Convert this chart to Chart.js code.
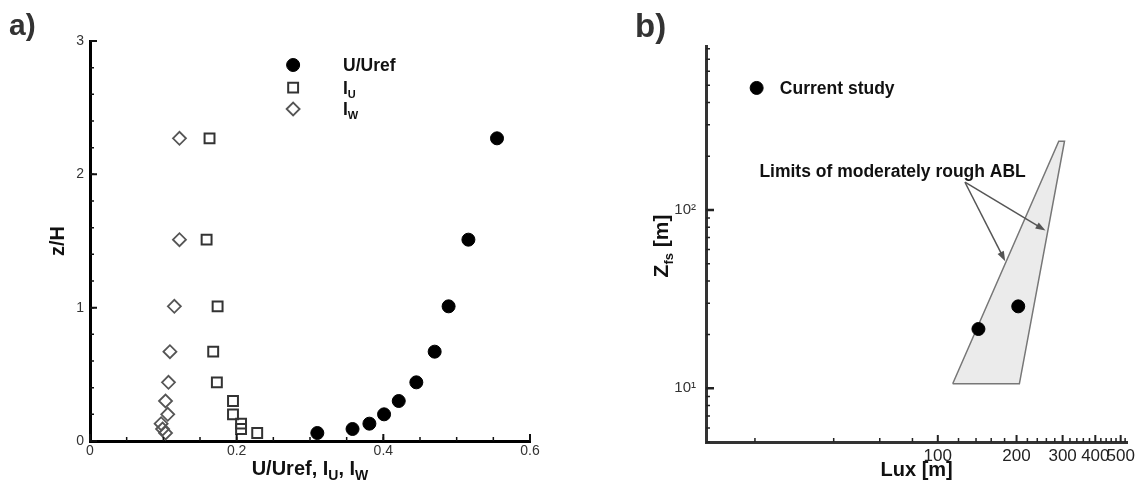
<!DOCTYPE html>
<html>
<head>
<meta charset="utf-8">
<script src="https://cdn.jsdelivr.net/npm/chart.js@4.4.1/dist/chart.umd.min.js"></script>
<style>
    html, body { margin: 0; padding: 0; background: #fff; }
    #wrap { position: relative; width: 1139px; height: 482px; }
    canvas { position: absolute; top: 0; }
    #chartA { left: 0; }
    #chartB { left: 570px; }
</style>
</head>
<body>
<div id="wrap">
    <canvas id="chartA" width="570" height="482"></canvas>
    <canvas id="chartB" width="569" height="482"></canvas>
</div>
<script>
const FONT = '"Liberation Sans", Arial, Helvetica, sans-serif';

// a) profiles against z/H
const zH    = [0.06, 0.09, 0.13, 0.20, 0.30, 0.44, 0.67, 1.01, 1.51, 2.27];
const uUref = [0.310, 0.358, 0.381, 0.401, 0.421, 0.445, 0.470, 0.489, 0.516, 0.555];
const iU    = [0.228, 0.206, 0.206, 0.195, 0.195, 0.173, 0.168, 0.174, 0.159, 0.163];
const iW    = [0.103, 0.099, 0.097, 0.106, 0.103, 0.107, 0.109, 0.115, 0.122, 0.122];
const xTicksA = [0, 0.2, 0.4, 0.6];
const xTickLabelsA = ['0', '0.2', '0.4', '0.6'];
const yTicksA = [0, 1, 2, 3];
const yTickLabelsA = ['0', '1', '2', '3'];

// b) length scale against full scale height
const luxStudy = [143, 203];
const zfsStudy = [21.5, 28.8];
const ablLux = [114, 205, 305, 290, 114];
const ablZfs = [10.6, 10.6, 243, 243, 10.6];
const xTicksB = [100, 200, 300, 400, 500];
const xTickLabelsB = ['100', '200', '300', '400', '500'];
const yTicksB = [10, 100];
const yTickLabelsB = ['10¹', '10²'];

// annotation anchors, in data units
const legendRowsA = [2.82, 2.65, 2.49];
const legendMarkA = 0.277;
const legendTextA = 0.345;
const legendB = [20.3, 483];
const legendTextB = 24.9;
const ablLabel = [20.8, 166];
const arrowFrom = [127, 143];
const arrowTipLux = [181, 258];
const arrowTipZfs = [51.5, 76.6];

function range(start, stop, step) {
    const out = [];
    for (let v = start; v <= stop + 1e-9; v += step) out.push(+v.toFixed(4));
    return out;
}

function drawTicks(chart, axis, values, len, width, color) {
    const ctx = chart.ctx;
    const area = chart.chartArea;
    const sc = chart.scales[axis];
    ctx.save();
    ctx.strokeStyle = color;
    ctx.lineWidth = width;
    ctx.beginPath();
    values.forEach(v => {
        const p = sc.getPixelForValue(v);
        if (axis === 'x') {
            ctx.moveTo(p, area.bottom);
            ctx.lineTo(p, area.bottom - len);
        } else {
            ctx.moveTo(area.left, p);
            ctx.lineTo(area.left + len, p);
        }
    });
    ctx.stroke();
    ctx.restore();
}

// parts: [text, size, dy]; y is the baseline
function drawParts(ctx, parts, x, y, align) {
    let total = 0;
    parts.forEach(p => {
        ctx.font = `bold ${p[1]}px ${FONT}`;
        total += ctx.measureText(p[0]).width;
    });
    let cx = align === 'center' ? x - total / 2 : x;
    ctx.textAlign = 'left';
    ctx.textBaseline = 'alphabetic';
    parts.forEach(p => {
        ctx.font = `bold ${p[1]}px ${FONT}`;
        ctx.fillText(p[0], cx, y + (p[2] || 0));
        cx += ctx.measureText(p[0]).width;
    });
}

function drawArrow(ctx, x0, y0, x1, y1) {
    const a = Math.atan2(y1 - y0, x1 - x0);
    const len = 10, half = 3.5;
    ctx.beginPath();
    ctx.moveTo(x0, y0);
    ctx.lineTo(x1 - Math.cos(a) * len * 0.8, y1 - Math.sin(a) * len * 0.8);
    ctx.stroke();
    ctx.beginPath();
    ctx.moveTo(x1, y1);
    ctx.lineTo(x1 - Math.cos(a) * len - Math.sin(a) * half, y1 - Math.sin(a) * len + Math.cos(a) * half);
    ctx.lineTo(x1 - Math.cos(a) * len + Math.sin(a) * half, y1 - Math.sin(a) * len - Math.cos(a) * half);
    ctx.closePath();
    ctx.fill();
}

const pointSets = [
    { pointStyle: 'circle', radius: 6.5, borderWidth: 1, fill: '#000', stroke: '#000' },
    { pointStyle: 'rect', radius: 7, borderWidth: 2, fill: 'rgba(0,0,0,0)', stroke: '#333' },
    { pointStyle: 'rectRot', radius: 6.5, borderWidth: 1.8, fill: 'rgba(0,0,0,0)', stroke: '#555' }
];

const panelAPlugin = {
    id: 'panelA',
    afterDraw(chart) {
        const ctx = chart.ctx;
        const sx = chart.scales.x, sy = chart.scales.y;

        drawTicks(chart, 'x', range(0, 0.6, 0.05), 4, 1.5, '#111');
        drawTicks(chart, 'x', xTicksA, 7, 2, '#111');
        drawTicks(chart, 'y', range(0, 3, 0.2), 4, 1.5, '#111');
        drawTicks(chart, 'y', yTicksA, 7, 2, '#111');

        ctx.save();
        ctx.fillStyle = '#111';
        drawParts(ctx, [['U/Uref, I', 20], ['U', 14, 5], [', I', 20], ['W', 14, 5]],
            (chart.chartArea.left + chart.chartArea.right) / 2, 475, 'center');

        ctx.translate(57, (chart.chartArea.top + chart.chartArea.bottom) / 2);
        ctx.rotate(-Math.PI / 2);
        drawParts(ctx, [['z/H', 20]], 0, 7, 'center');
        ctx.restore();

        // legend
        const labels = [[['U/Uref', 17.5]], [['I', 17.5], ['U', 11, 4]], [['I', 17.5], ['W', 11, 4]]];
        ctx.save();
        legendRowsA.forEach((row, i) => {
            const px = sx.getPixelForValue(legendMarkA);
            const py = sy.getPixelForValue(row);
            const s = pointSets[i];
            ctx.fillStyle = s.fill;
            ctx.strokeStyle = s.stroke;
            ctx.lineWidth = s.borderWidth;
            Chart.helpers.drawPoint(ctx, { pointStyle: s.pointStyle, radius: s.radius, borderWidth: s.borderWidth, rotation: 0 }, px, py);
            ctx.fillStyle = '#111';
            drawParts(ctx, labels[i], sx.getPixelForValue(legendTextA), py + 6, 'left');
        });

        ctx.fillStyle = '#333';
        ctx.font = `bold 30px ${FONT}`;
        ctx.textAlign = 'left';
        ctx.textBaseline = 'alphabetic';
        ctx.fillText('a)', 9, 35);
        ctx.restore();
    }
};

const panelBPlugin = {
    id: 'panelB',
    afterDraw(chart) {
        const ctx = chart.ctx;
        const sx = chart.scales.x, sy = chart.scales.y;
        const area = chart.chartArea;

        const xMinor = range(20, 520, 20).filter(v => xTicksB.indexOf(v) < 0);
        const yMinor = [5, 6, 7, 8, 9, 20, 30, 40, 50, 60, 70, 80, 90, 200, 300, 400, 500, 600, 700, 800];
        drawTicks(chart, 'x', xMinor, 4, 1.5, '#222');
        drawTicks(chart, 'x', xTicksB, 7, 2, '#222');
        drawTicks(chart, 'y', yMinor, 4, 1.5, '#222');
        drawTicks(chart, 'y', yTicksB, 8, 2.5, '#222');

        ctx.save();
        ctx.fillStyle = '#111';
        drawParts(ctx, [['Lux [m]', 20]], (area.left + area.right) / 2, 476, 'center');

        ctx.save();
        ctx.translate(90, (area.top + area.bottom) / 2 + 2);
        ctx.rotate(-Math.PI / 2);
        drawParts(ctx, [['Z', 21], ['fs', 13, 5], [' [m]', 21]], 0, 7.5, 'center');
        ctx.restore();

        // legend
        const lx = sx.getPixelForValue(legendB[0]);
        const ly = sy.getPixelForValue(legendB[1]);
        ctx.fillStyle = '#000';
        ctx.strokeStyle = '#000';
        ctx.lineWidth = 1;
        Chart.helpers.drawPoint(ctx, { pointStyle: 'circle', radius: 6.5, borderWidth: 1, rotation: 0 }, lx, ly);
        ctx.fillStyle = '#111';
        drawParts(ctx, [['Current study', 17.5]], sx.getPixelForValue(legendTextB), ly + 6, 'left');

        drawParts(ctx, [['Limits of moderately rough ABL', 17.5]],
            sx.getPixelForValue(ablLabel[0]), sy.getPixelForValue(ablLabel[1]) + 6, 'left');

        ctx.strokeStyle = '#555';
        ctx.fillStyle = '#555';
        ctx.lineWidth = 1.5;
        const ox = sx.getPixelForValue(arrowFrom[0]);
        const oy = sy.getPixelForValue(arrowFrom[1]);
        arrowTipLux.forEach((lux, i) => {
            drawArrow(ctx, ox, oy, sx.getPixelForValue(lux), sy.getPixelForValue(arrowTipZfs[i]));
        });

        ctx.fillStyle = '#333';
        ctx.font = `bold 33px ${FONT}`;
        ctx.textAlign = 'left';
        ctx.textBaseline = 'alphabetic';
        ctx.fillText('b)', 65, 37);
        ctx.restore();
    }
};

function axisBorder(color) {
    return { display: true, width: 3, color: color };
}

new Chart(document.getElementById('chartA'), {
    type: 'scatter',
    data: {
        datasets: [uUref, iU, iW].map((xs, i) => ({
            label: ['U/Uref', 'Iu', 'Iw'][i],
            data: xs.map((x, j) => ({ x: x, y: zH[j] })),
            pointStyle: pointSets[i].pointStyle,
            pointRadius: pointSets[i].radius,
            pointBorderWidth: pointSets[i].borderWidth,
            backgroundColor: pointSets[i].fill,
            borderColor: pointSets[i].stroke
        }))
    },
    options: {
        responsive: false,
        animation: false,
        layout: { padding: { left: 0, right: 40, top: 41, bottom: 0 } },
        plugins: { legend: { display: false }, tooltip: { enabled: false } },
        scales: {
            x: {
                type: 'linear', min: 0, max: 0.6,
                grid: { display: false, drawTicks: false },
                border: axisBorder('#000'),
                afterBuildTicks: s => { s.ticks = xTicksA.map(v => ({ value: v })); },
                afterFit: s => { s.height = 41; },
                ticks: {
                    font: { family: FONT, size: 14 }, color: '#333', padding: 2,
                    autoSkip: false, maxRotation: 0, minRotation: 0,
                    callback: (v, i) => xTickLabelsA[i]
                }
            },
            y: {
                type: 'linear', min: 0, max: 3,
                grid: { display: false, drawTicks: false },
                border: axisBorder('#000'),
                afterBuildTicks: s => { s.ticks = yTicksA.map(v => ({ value: v })); },
                afterFit: s => { s.width = 90; },
                ticks: {
                    font: { family: FONT, size: 14 }, color: '#333', padding: 6,
                    callback: (v, i) => yTickLabelsA[i]
                }
            }
        }
    },
    plugins: [panelAPlugin]
});

new Chart(document.getElementById('chartB'), {
    type: 'scatter',
    data: {
        datasets: [
            {
                label: 'Current study',
                data: luxStudy.map((x, i) => ({ x: x, y: zfsStudy[i] })),
                pointStyle: 'circle',
                pointRadius: 6.5,
                backgroundColor: '#000',
                borderColor: '#000'
            },
            {
                type: 'line',
                label: 'Limits of moderately rough ABL',
                data: ablLux.map((x, i) => ({ x: x, y: ablZfs[i] })),
                borderColor: '#777',
                borderWidth: 1.5,
                backgroundColor: '#ebebeb',
                fill: 'shape',
                pointRadius: 0,
                tension: 0
            }
        ]
    },
    options: {
        responsive: false,
        animation: false,
        layout: { padding: { left: 0, right: 10, top: 46, bottom: 0 } },
        plugins: { legend: { display: false }, tooltip: { enabled: false } },
        scales: {
            x: {
                type: 'logarithmic', min: 13, max: 530,
                grid: { display: false, drawTicks: false },
                border: axisBorder('#333'),
                afterBuildTicks: s => { s.ticks = xTicksB.map(v => ({ value: v })); },
                afterFit: s => { s.height = 40; },
                ticks: {
                    font: { family: FONT, size: 17 }, color: '#222', padding: 4,
                    autoSkip: false, maxRotation: 0, minRotation: 0,
                    callback: (v, i) => xTickLabelsB[i]
                }
            },
            y: {
                type: 'logarithmic', min: 5, max: 830,
                grid: { display: false, drawTicks: false },
                border: axisBorder('#333'),
                afterBuildTicks: s => { s.ticks = yTicksB.map(v => ({ value: v })); },
                afterFit: s => { s.width = 136; },
                ticks: {
                    font: { family: FONT, size: 15 }, color: '#333', padding: 10,
                    callback: (v, i) => yTickLabelsB[i]
                }
            }
        }
    },
    plugins: [panelBPlugin]
});
</script>
</body>
</html>
